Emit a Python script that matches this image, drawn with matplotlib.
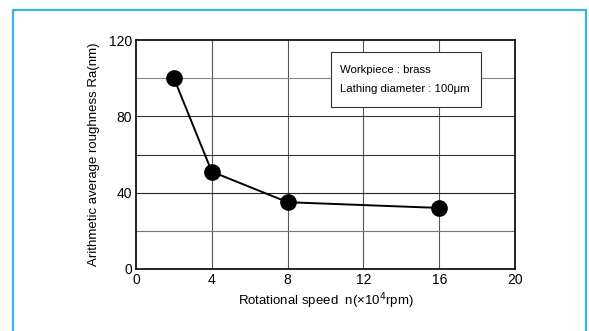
import matplotlib.pyplot as plt
from matplotlib.patches import Rectangle

plt.rcParams["font.family"] = ["Liberation Sans", "DejaVu Sans"]

# Data
speed = [2, 4, 8, 16]          # x10^4 rpm
roughness = [100, 51, 35, 32]  # Ra (nm)
x_ticks = [0, 4, 8, 12, 16, 20]
y_ticks = [0, 40, 80, 120]
grid_x = [4, 8, 12, 16]
grid_y = [20, 40, 60, 80, 100]
note_lines = ["Workpiece : brass", "Lathing diameter : 100\u03bcm"]

fig = plt.figure(figsize=(5.89, 3.31), dpi=100)
ax = fig.add_axes([136 / 589, 1 - 269 / 331, (515 - 136) / 589, (269 - 40) / 331])

# outer light-blue frame
fig.patches.append(Rectangle((13 / 589, -0.2), (586 - 13) / 589, 1.2 - 10 / 331,
                             transform=fig.transFigure, fill=False,
                             edgecolor="#3CB4E6", lw=1.6, clip_on=False))

for gx in grid_x:
    ax.axvline(gx, color="#555555", lw=0.8, zorder=1)
for gy, c in zip(grid_y, ["#777777", "#222222", "#333333", "#333333", "#888888"]):
    ax.axhline(gy, color=c, lw=0.8, zorder=1)

ax.plot(speed, roughness, color="black", lw=1.4, marker="o", ms=11, zorder=3)

ax.set_xlim(0, 20)
ax.set_ylim(0, 120)
ax.set_xticks(x_ticks)
ax.set_yticks(y_ticks)
ax.tick_params(length=0, labelsize=10, pad=3)
for s in ax.spines.values():
    s.set_linewidth(1.2)

ax.set_xlabel("Rotational speed  n(\u00d710$^{4}$rpm)", fontsize=9.5, labelpad=3)
ax.set_ylabel("Arithmetic average roughness Ra(nm)", fontsize=9.5, labelpad=6)

# annotation box
ax.add_patch(Rectangle((10.3, 84.9), 7.9, 28.8, facecolor="white",
                       edgecolor="#333333", lw=0.8, zorder=5))
for txt, yy in zip(note_lines, [104.3, 94.3]):
    ax.text(10.75, yy, txt, fontsize=8.2, va="center", ha="left", zorder=6)

fig.savefig("out.png", dpi=100)
